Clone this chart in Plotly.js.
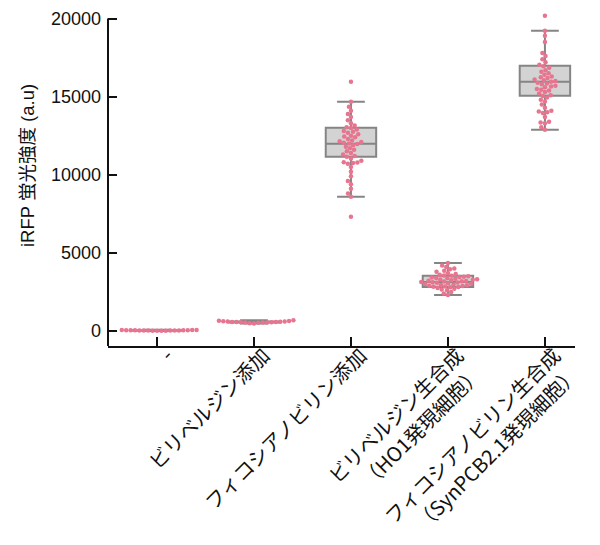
<!DOCTYPE html>
<html>
<head>
<meta charset="utf-8">
<script src="https://cdn.plot.ly/plotly-3.0.1.min.js"></script>
<style>html,body{margin:0;padding:0;background:#fff;}#chart{width:600px;height:545px;}</style>
</head>
<body>
<div id="chart"></div>
<script>
// ---- data ----
const categories = ["-", "ビリベルジン添加", "フィコシアノビリン添加",
  "ビリベルジン生合成<br>（HO1発現細胞）", "フィコシアノビリン生合成<br>（SynPCB2.1発現細胞）"];

const group0 = [10, 15, 20, 22, 25, 28, 30, 32, 35, 38, 40, 42, 45, 48, 50, 55, 60, 70];
const group1 = [480, 500, 520, 540, 545, 550, 560, 565, 570, 575, 580, 590, 600, 610, 620, 640, 660, 680];
const group2 = [15960, 14680, 14350, 14100, 13900, 13700, 13500, 13300, 13150, 13050, 13000, 12900,
  12800, 12750, 12700, 12600, 12500, 12450, 12400, 12300, 12200, 12150, 12100, 12050, 12000, 11980,
  11900, 11800, 11700, 11600, 11500, 11400, 11300, 11200, 11150, 11050, 10900, 10800, 10780, 10750,
  10700, 10500, 10200, 9900, 9600, 9400, 9100, 8800, 8590, 7310];
const group3 = [4360, 4200, 4100, 4000, 3950, 3850, 3800, 3700, 3650, 3600, 3560, 3530, 3500, 3480,
  3450, 3420, 3400, 3380, 3350, 3320, 3300, 3280, 3250, 3220, 3200, 3180, 3160, 3140, 3120, 3100,
  3080, 3050, 3020, 3000, 2980, 2950, 2920, 2900, 2880, 2850, 2830, 2820, 2800, 2750, 2700, 2650,
  2600, 2500, 2400, 2310];
const group4 = [20190, 19230, 18900, 18500, 17800, 17600, 17400, 17200, 17050, 16950, 16850, 16700,
  16600, 16500, 16400, 16300, 16250, 16200, 16100, 16050, 16000, 15950, 15900, 15850, 15800, 15700,
  15650, 15600, 15500, 15450, 15400, 15300, 15200, 15100, 15050, 14950, 14800, 14700, 14500, 14300,
  14100, 14050, 14000, 13950, 13700, 13400, 13350, 13300, 13050, 12890];
const groups = [group0, group1, group2, group3, group4];

// box statistics
const q1Values     = [20, 540, 11150, 2820, 15060];
const medianValues = [35, 570, 11990, 3140, 15960];
const q3Values     = [50, 610, 13010, 3530, 16990];
const lowerFence   = [0, 480, 8590, 2310, 12890];
const upperFence   = [80, 680, 14680, 4360, 19230];

const yTicks = [0, 5000, 10000, 15000, 20000];
const yTitle = 'iRFP 蛍光強度 (a.u)';

// ---- layout constants ----
const W = 600, H = 545;
const yRange = [-962, 20360];
const xRange = [-0.505, 4.31];
const M = {l: 108, r: 25, t: 13, b: 199};
const plotW = W - M.l - M.r, plotH = H - M.t - M.b;
const pxPerX = plotW / (xRange[1] - xRange[0]);
const pxPerY = plotH / (yRange[1] - yRange[0]);
const D = 4.4; // swarm spacing in px

// simple beeswarm: horizontal offsets (in category units) so points don't overlap
function swarm(values) {
  const order = values.map((v, i) => i).sort((a, b) => values[a] - values[b]);
  const placed = [];
  const offs = new Array(values.length).fill(0);
  order.forEach(i => {
    const y = values[i] * pxPerY;
    const near = placed.filter(p => Math.abs(p.y - y) < D);
    const cands = [0];
    near.forEach(p => {
      const dx = Math.sqrt(D * D - (p.y - y) * (p.y - y));
      cands.push(p.x + dx, p.x - dx);
    });
    cands.sort((a, b) => Math.abs(a) - Math.abs(b) || a - b);
    let best = 0;
    for (const c of cands) {
      if (near.every(p => (p.x - c) ** 2 + (p.y - y) ** 2 >= D * D - 1e-6)) { best = c; break; }
    }
    placed.push({x: best, y: y});
    offs[i] = best / pxPerX;
  });
  return offs;
}

const traces = [];
traces.push({
  type: 'box',
  x: [0, 1, 2, 3, 4],
  q1: q1Values, median: medianValues, q3: q3Values,
  lowerfence: lowerFence, upperfence: upperFence,
  width: 0.52, whiskerwidth: 0.55,
  boxpoints: false,
  fillcolor: '#d3d3d3',
  line: {color: '#858585', width: 2},
  hoverinfo: 'skip', showlegend: false
});
groups.forEach((vals, gi) => {
  const offs = swarm(vals);
  traces.push({
    type: 'scatter', mode: 'markers',
    x: vals.map((v, i) => gi + offs[i]),
    y: vals,
    marker: {color: '#e8758f', size: 4.5, line: {width: 0}},
    cliponaxis: false, showlegend: false, hoverinfo: 'y'
  });
});

const layout = {
  width: W, height: H,
  margin: M,
  paper_bgcolor: '#fff', plot_bgcolor: '#fff',
  showlegend: false,
  font: {family: 'Liberation Sans, Arial, Noto Sans CJK JP, sans-serif', color: '#111'},
  xaxis: {
    range: xRange, tickvals: [0, 1, 2, 3, 4], ticktext: categories,
    tickangle: -45, ticks: 'inside', ticklen: 9, tickwidth: 2, tickcolor: '#111',
    showline: true, linecolor: '#111', linewidth: 2, showgrid: false, zeroline: false,
    tickfont: {family: 'Noto Sans CJK JP, sans-serif', size: 20, color: '#111'},
    ticklabelstandoff: -12, ticklabelshift: 10, automargin: false
  },
  yaxis: {
    range: yRange, tickvals: yTicks, ticktext: yTicks.map(String),
    ticks: 'inside', ticklen: 9, tickwidth: 2, tickcolor: '#111',
    showline: false, showgrid: false, zeroline: false,
    tickfont: {family: 'Liberation Sans, Arial, sans-serif', size: 18, color: '#111'},
    ticklabelstandoff: 6, automargin: false
  },
  shapes: [{
    type: 'line', xref: 'paper', yref: 'y', x0: 0, x1: 0,
    y0: yRange[0], y1: yTicks[yTicks.length - 1],
    line: {color: '#111', width: 2}
  }],
  annotations: [{
    text: yTitle, textangle: -90, showarrow: false,
    xref: 'paper', yref: 'paper',
    x: (27 - M.l) / plotW, y: (H - M.b - 166) / plotH,
    xanchor: 'center', yanchor: 'middle',
    font: {family: 'Liberation Sans, Noto Sans CJK JP, sans-serif', size: 18.5, color: '#111'}
  }]
};

Plotly.newPlot('chart', traces, layout, {staticPlot: true, displayModeBar: false});
</script>
</body>
</html>
